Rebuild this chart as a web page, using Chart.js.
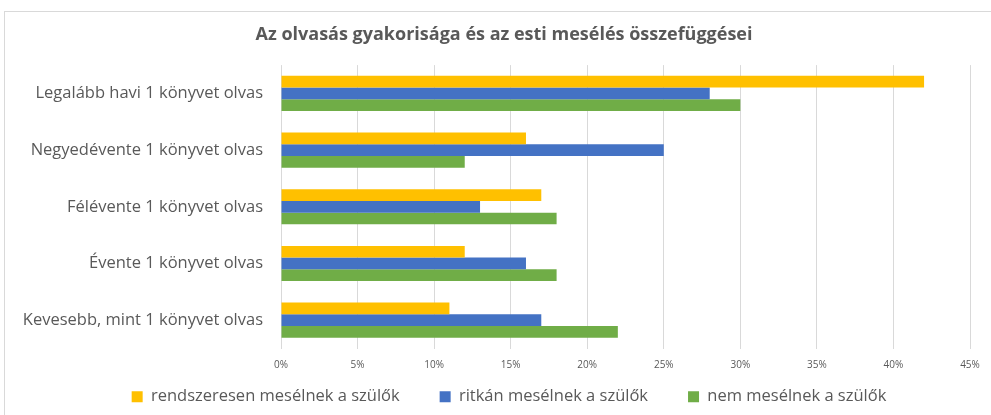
<!DOCTYPE html>
<html><head><meta charset="utf-8">
<script src="https://cdn.jsdelivr.net/npm/chart.js@4.4.1/dist/chart.umd.min.js"></script>
<style>html,body{margin:0;padding:0;background:#fff;}#c{display:block;}</style>
</head><body>
<canvas id="c" width="991" height="415"></canvas>
<script>
const categories = ["Legalább havi 1 könyvet olvas","Negyedévente 1 könyvet olvas","Félévente 1 könyvet olvas","Évente 1 könyvet olvas","Kevesebb, mint 1 könyvet olvas"];
const seriesNames = ["rendszeresen mesélnek a szülők","ritkán mesélnek a szülők","nem mesélnek a szülők"];
const rendszeresen = [42,16,17,12,11];
const ritkan = [28,25,13,16,17];
const nem = [30,12,18,18,22];
const titleText = "Az olvasás gyakorisága és az esti mesélés összefüggései";
const FONT = "Open Sans";
const grey = "#595959";

const borderPlugin = {
  id:'border',
  beforeDraw(chart){
    const ctx = chart.ctx;
    ctx.save();
    ctx.fillStyle='#fff';ctx.fillRect(0,0,chart.width,chart.height);
    ctx.strokeStyle='#D9D9D9';ctx.lineWidth=1;
    ctx.strokeRect(4.5,11.5,1000,420);
    ctx.restore();
  }
};
const layoutTweak = {
  id:'tweak',
  afterLayout(chart){
    chart.scales.x.bottom = chart.height;
    chart.titleBlock.right += 38;
    chart.legend.right += 48;
  }
};

new Chart(document.getElementById('c'),{
  type:'bar',
  data:{labels:categories,datasets:[
    {label:seriesNames[0],data:rendszeresen,backgroundColor:'#FFC000'},
    {label:seriesNames[1],data:ritkan,backgroundColor:'#4472C4'},
    {label:seriesNames[2],data:nem,backgroundColor:'#70AD47'}
  ]},
  options:{
    responsive:false,animation:false,indexAxis:'y',
    categoryPercentage:0.62,barPercentage:1,
    layout:{padding:{left:0,right:21,top:0,bottom:0}},
    plugins:{
      title:{display:true,text:titleText,color:grey,font:{family:FONT,size:18,weight:'bold'},padding:{top:24,bottom:19.5}},
      legend:{position:'bottom',labels:{boxWidth:11,boxHeight:11,color:grey,font:{family:FONT,size:16.5},padding:40}},
      tooltip:{enabled:false}
    },
    scales:{
      x:{min:0,max:45,ticks:{stepSize:5,callback:v=>v+'%',color:grey,font:{family:FONT,size:10},padding:11},
         grid:{color:'#D9D9D9',drawTicks:false},border:{display:false},
         afterFit(s){s.height=0;}},
      y:{ticks:{color:grey,font:{family:FONT,size:16.5},padding:18},grid:{display:false,drawTicks:false},border:{display:false},
         afterFit(s){s.width=281;}}
    }
  },
  plugins:[borderPlugin, layoutTweak]
});
</script>
</body></html>
